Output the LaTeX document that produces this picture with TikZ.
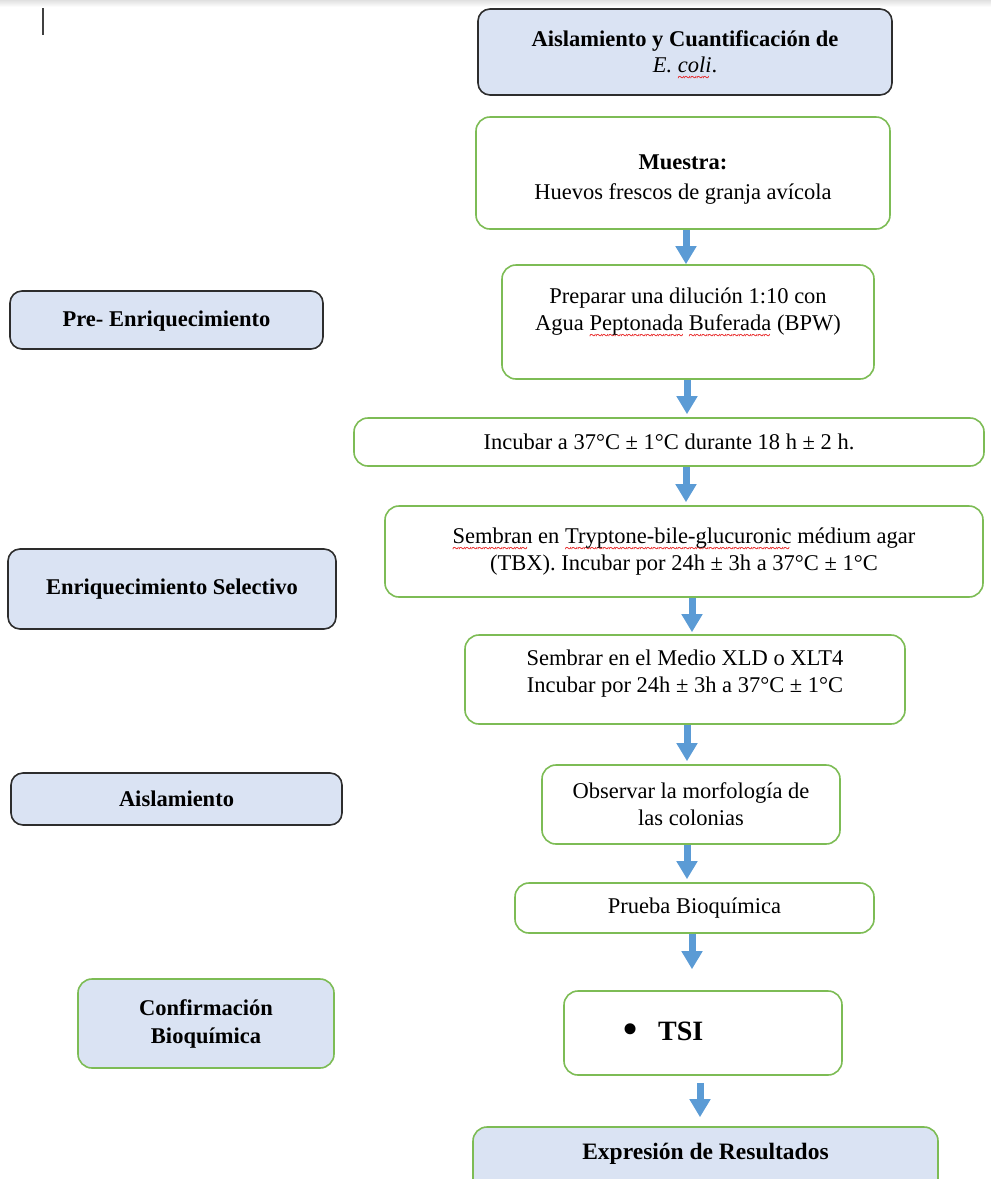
\documentclass[tikz,border=0pt]{standalone}
\usepackage{fontspec}
\setmainfont{Liberation Serif}
\usetikzlibrary{arrows.meta}
\definecolor{gline}{RGB}{125,188,85}
\definecolor{boxblue}{RGB}{218,227,243}
\definecolor{darkb}{RGB}{45,45,45}
\definecolor{arrblue}{RGB}{91,155,213}
\definecolor{squigred}{RGB}{230,20,20}
\newcommand\sq[1]{\leavevmode\setbox0\hbox{#1}\rlap{\raisebox{-9pt}[0pt][0pt]{\color{squigred}\fontsize{12}{12}\selectfont\bfseries\upshape\leaders\hbox{\char"7E}\hskip\wd0}}\box0\relax}
\tikzset{
  gbox/.style={draw=gline, line width=1.6pt, fill=white, rounded corners=14pt, align=center, inner sep=6pt},
  bbox/.style={draw=darkb, line width=1.6pt, fill=boxblue, rounded corners=12pt, align=center, inner sep=6pt, font=\fontsize{22.5}{27}\selectfont\bfseries},
  cbox/.style={gbox, fill=boxblue, font=\fontsize{22.5}{28}\selectfont\bfseries},
  arr/.style={draw=arrblue, line width=7pt, -{Triangle[width=20pt,length=18pt]}}
}
\begin{document}
\begin{tikzpicture}[x=1pt,y=-1pt,font=\fontsize{22.5}{27}\selectfont]
\useasboundingbox (0,0) rectangle (991,1179);
\clip (0,0) rectangle (991,1179);
\shade[top color=black!12, bottom color=white] (0,0) rectangle (991,7);
\draw[line width=2pt, black!75] (42.5,8) -- (42.5,35);

% main column
\node[bbox, font=\fontsize{22.5}{26}\selectfont, minimum width=414pt, minimum height=86pt] (title) at (685,52)
  {\textbf{Aislamiento y Cuantificación de}\\\textit{E. \sq{coli}}.};
\node[gbox, minimum width=414pt, minimum height=112pt, text height=57pt] (muestra) at (683,173)
  {\textbf{Muestra:}\\[3pt]Huevos frescos de granja avícola};
\node[gbox, minimum width=372pt, minimum height=114pt, text depth=25pt] (prep) at (688,322)
  {Preparar una dilución 1:10 con\\Agua \sq{Peptonada} \sq{Buferada} (BPW)};
\node[gbox, minimum width=630pt, minimum height=48pt] (incub) at (669,442)
  {Incubar a 37°C ± 1°C durante 18 h ± 2 h.};
\node[gbox, minimum width=598pt, minimum height=91pt] (tbx) at (684,551.5)
  {\sq{Sembran} en \sq{Tryptone-bile-glucuronic} médium agar\\(TBX). Incubar por 24h ± 3h a 37°C ± 1°C};
\node[gbox, minimum width=440pt, minimum height=89pt, text depth=17pt] (xld) at (685,679.5)
  {Sembrar en el Medio XLD o XLT4\\Incubar por 24h ± 3h a 37°C ± 1°C};
\node[gbox, minimum width=298pt, minimum height=79pt] (obs) at (691,804.5)
  {Observar la morfología de\\las colonias};
\node[gbox, minimum width=359pt, minimum height=50pt] (prueba) at (694.5,908)
  {Prueba Bioquímica};
\node[gbox, minimum width=278pt, minimum height=84pt, text width=250pt, align=left,
      font=\fontsize{28}{32}\selectfont] (tsi) at (703,1033)
  {\hspace*{44pt}\raisebox{-3.5pt}{\fontsize{46}{32}\selectfont\textbullet}\hspace{20pt}\textbf{TSI}};
\node[gbox, fill=boxblue, minimum width=465pt, minimum height=90pt, text depth=41pt,
      font=\fontsize{23.5}{28}\selectfont\bfseries] (expr) at (705.5,1172)
  {Expresión de Resultados};

% left column
\node[bbox, minimum width=313pt, minimum height=58pt, text depth=2pt] (pre) at (166.5,320) {Pre- Enriquecimiento};
\node[bbox, minimum width=328pt, minimum height=80pt] (enr) at (172,589) {Enriquecimiento Selectivo};
\node[bbox, minimum width=331pt, minimum height=52pt] (ais) at (176.5,799) {Aislamiento};
\node[cbox, minimum width=256pt, minimum height=89pt] (conf) at (206,1023.5) {Confirmación\\Bioquímica};

% arrows
\draw[arr] ([xshift=3pt]muestra.south) -- ([xshift=-2pt]prep.north);
\draw[arr, shorten >=3pt] ([xshift=-1pt]prep.south) -- ([xshift=18pt]incub.north);
\draw[arr, shorten >=3pt] ([xshift=17pt]incub.south) -- ([xshift=2pt]tbx.north);
\draw[arr, shorten >=2pt] ([xshift=8pt]tbx.south) -- ([xshift=7pt]xld.north);
\draw[arr, shorten >=3pt] ([xshift=2pt]xld.south) -- ([xshift=-4pt]obs.north);
\draw[arr, shorten >=3pt] ([xshift=-4pt]obs.south) -- ([xshift=-7.5pt]prueba.north);
\draw[arr, shorten >=21pt] ([xshift=-2.5pt]prueba.south) -- ([xshift=-11pt]tsi.north);
\draw[arr, shorten <=7pt, shorten >=9pt] ([xshift=-3pt]tsi.south) -- ([xshift=-5.5pt]expr.north);
\end{tikzpicture}
\end{document}
